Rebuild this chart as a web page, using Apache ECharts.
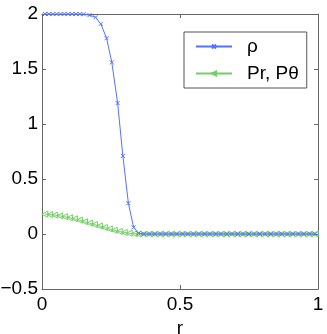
<!DOCTYPE html>
<html>
<head>
<meta charset="utf-8">
<script src="https://cdn.jsdelivr.net/npm/echarts@6/dist/echarts.min.js"></script>
<style>
  html,body{margin:0;padding:0;background:#fff}
  #chart{width:327px;height:334px}
</style>
</head>
<body>
<div id="chart"></div>
<script>
// rho
const rhoX = [0.011,0.025,0.039,0.053,0.067,0.081,0.095,0.109,0.123,0.137,0.151,
  0.172,0.194,0.213,0.234,0.253,0.274,0.293,0.313,0.332,0.35,
  0.37,0.39,0.41,0.43,0.45,0.47,0.49,0.51,0.53,0.55,0.57,0.59,0.61,0.63,0.65,0.67,0.69,
  0.71,0.73,0.75,0.77,0.79,0.81,0.83,0.85,0.87,0.89,0.91,0.93,0.95,0.97,0.99]
const rhoY = [2,2,2,2,2,2,2,2,2,2,1.998,
  1.99,1.97,1.91,1.78,1.56,1.19,0.71,0.28,0.06,0.005,
  0,0,0,0,0,0,0,0,0,0,0,0,0,0,0,0,0,
  0,0,0,0,0,0,0,0,0,0,0,0,0,0,0]

// Pr, Ptheta
const pX = [0.01,0.028,0.046,0.064,0.082,0.1,0.118,0.136,0.154,0.172,0.19,0.208,0.226,0.244,0.262,0.28,0.298,0.316,0.334,
  0.35,0.37,0.39,0.41,0.43,0.45,0.47,0.49,0.51,0.53,0.55,0.57,0.59,0.61,0.63,0.65,0.67,0.69,
  0.71,0.73,0.75,0.77,0.79,0.81,0.83,0.85,0.87,0.89,0.91,0.93,0.95,0.97,0.99]
const pY = [0.18,0.177,0.172,0.165,0.157,0.148,0.138,0.126,0.112,0.099,0.086,0.073,0.059,0.046,0.034,0.023,0.014,0.007,0.002,
  0,0,0,0,0,0,0,0,0,0,0,0,0,0,0,0,0,0,
  0,0,0,0,0,0,0,0,0,0,0,0,0,0,0]

const names = ['ρ', 'Pr, Pθ']
const blue = '#5571ff'
const green = '#74d066'
const axisColor = '#666'
const font = 'Liberation Sans, Arial, sans-serif'

const zip = (xs, ys) => xs.map((x, i) => [x, ys[i]])

const chart = echarts.init(document.getElementById('chart'))

const axisCommon = {
  axisLine: {show: true, onZero: false, lineStyle: {color: axisColor, width: 1}},
  axisTick: {show: true, inside: true, length: 4, lineStyle: {color: axisColor}},
  splitLine: {show: false},
  axisLabel: {color: '#000', fontSize: 19, fontFamily: font}
}

chart.setOption({
  animation: false,
  grid: {left: 42, right: 9, top: 14, bottom: 45, containLabel: false, outerBoundsMode: 'none'},
  legend: {
    left: 184, top: 32,
    orient: 'vertical',
    backgroundColor: '#fff',
    borderColor: '#555', borderWidth: 1,
    padding: [5, 8, 5, 11],
    itemGap: 8,
    itemWidth: 36, itemHeight: 5,
    textStyle: {fontSize: 19, fontFamily: font, color: '#000', padding: [0, 0, 0, 10]},
    data: names
  },
  xAxis: [
    Object.assign({}, axisCommon, {
      type: 'value', min: 0, max: 1, interval: 0.5,
      name: 'r', nameLocation: 'middle', nameGap: 29,
      nameTextStyle: {fontSize: 19, fontFamily: font, color: '#000'},
      axisLabel: Object.assign({}, axisCommon.axisLabel, {margin: 6})
    }),
    Object.assign({}, axisCommon, {
      type: 'value', min: 0, max: 1, interval: 0.5, position: 'top',
      axisLabel: {show: false}
    })
  ],
  yAxis: [
    Object.assign({}, axisCommon, {
      type: 'value', min: -0.5, max: 2, interval: 0.5,
      axisLabel: Object.assign({}, axisCommon.axisLabel, {
        margin: 4,
        formatter: v => String(v).replace('-', '\u2212')
      })
    }),
    Object.assign({}, axisCommon, {
      type: 'value', min: -0.5, max: 2, interval: 0.5, position: 'right',
      axisLabel: {show: false}
    })
  ],
  series: [
    {
      name: names[0], type: 'line',
      data: zip(rhoX, rhoY),
      symbol: 'path://M0,0L10,10M10,0L0,10',
      symbolSize: 4,
      showAllSymbol: true,
      lineStyle: {color: blue, width: 1},
      itemStyle: {color: blue, borderColor: blue, borderWidth: 1},
      z: 3
    },
    {
      name: names[1], type: 'line',
      data: zip(pX, pY),
      symbol: 'path://M0,5L10,0L10,10Z',
      symbolSize: 6,
      showAllSymbol: true,
      lineStyle: {color: green, width: 1},
      itemStyle: {color: 'rgba(255,255,255,0)', borderColor: green, borderWidth: 1},
      z: 2
    }
  ]
})
</script>
</body>
</html>
